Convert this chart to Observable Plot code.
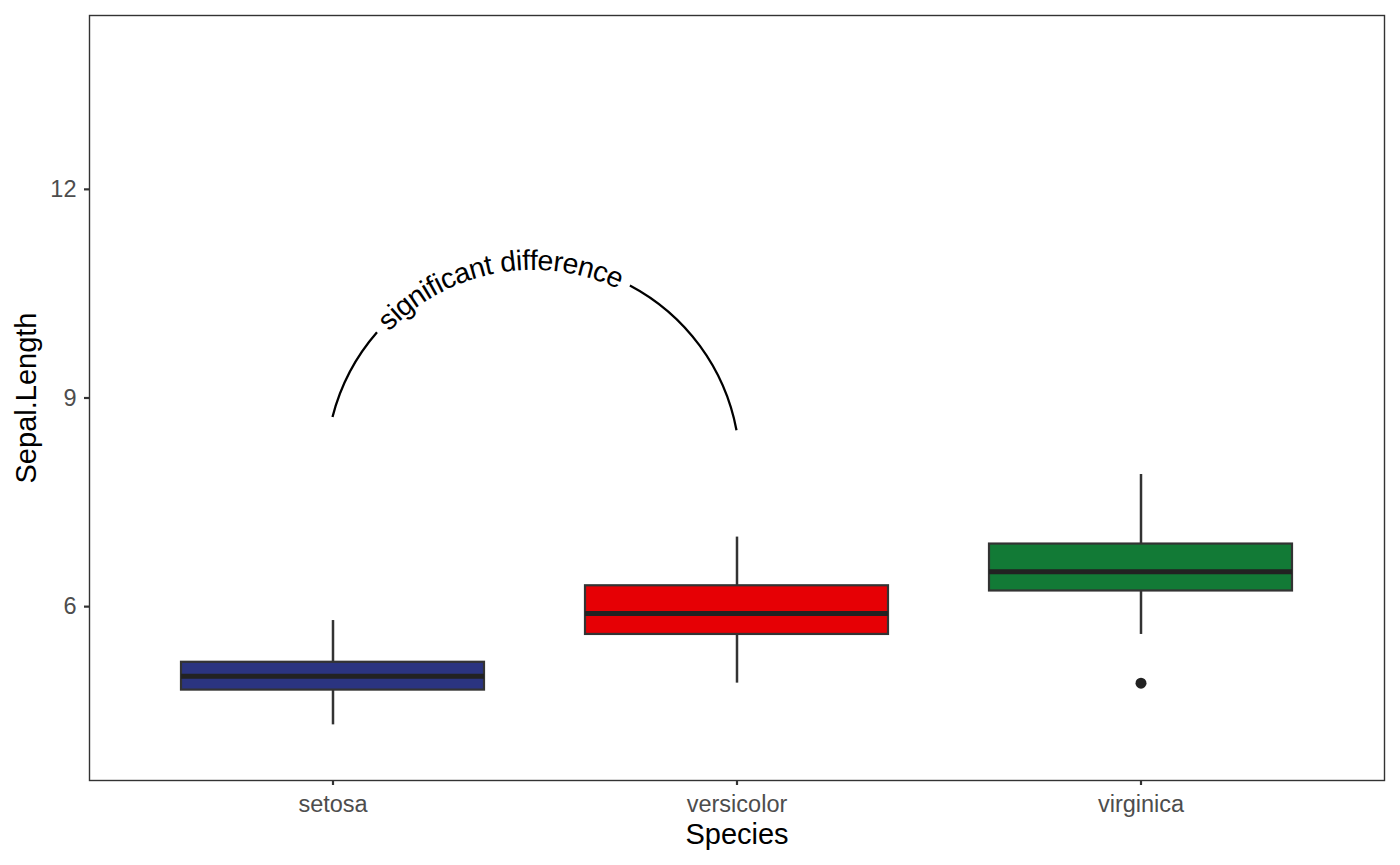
<!DOCTYPE html>
<html>
<head>
<meta charset="utf-8">
<script src="https://cdn.jsdelivr.net/npm/d3@7"></script>
<script src="https://cdn.jsdelivr.net/npm/@observablehq/plot@0.6"></script>
<style>
  html, body { margin: 0; padding: 0; background: #fff; }
  svg { display: block; }
</style>
</head>
<body>
<div id="chart"></div>
<script>
// ---- data ----
const species = ["setosa", "versicolor", "virginica"];
const whiskerLow = [4.3, 4.9, 5.6];
const q1 = [4.8, 5.6, 6.225];
const median = [5.0, 5.9, 6.5];
const q3 = [5.2, 6.3, 6.9];
const whiskerHigh = [5.8, 7.0, 7.9];
const outlierSpecies = ["virginica"];
const outlierValues = [4.9];
const yTicks = [6, 9, 12];
const annotationSpecies = ["setosa", "versicolor"];
const annotationY = [8.72, 8.53];
const annotationLabel = "significant difference";
const palette = ["#2B3480", "#E60005", "#127A36"];

const FONT = "'Liberation Sans', Arial, Helvetica, sans-serif";

const boxes = species.map((s, i) => ({
  species: s, lo: whiskerLow[i], q1: q1[i], median: median[i], q3: q3[i], hi: whiskerHigh[i]
}));
const outliers = outlierSpecies.map((s, i) => ({species: s, value: outlierValues[i]}));

const chart = Plot.plot({
  width: 1400,
  height: 865,
  marginTop: 15,
  marginBottom: 85,
  marginLeft: 89,
  marginRight: 16,
  style: {fontFamily: FONT, background: "#fff", overflow: "visible"},
  x: {type: "band", domain: species, paddingInner: 0.25, paddingOuter: 0.225},
  y: {domain: [3.5, 14.5]},
  color: {domain: species, range: palette},
  marks: [
    Plot.ruleX(boxes, {x: "species", y1: "lo", y2: "q1", stroke: "#333", strokeWidth: 2.5}),
    Plot.ruleX(boxes, {x: "species", y1: "q3", y2: "hi", stroke: "#333", strokeWidth: 2.5}),
    Plot.barY(boxes, {x: "species", y1: "q1", y2: "q3", fill: "species", stroke: "#333", strokeWidth: 2.2}),
    Plot.tickY(boxes, {x: "species", y: "median", stroke: "#222", strokeWidth: 5}),
    Plot.dot(outliers, {x: "species", y: "value", r: 5.5, fill: "#222", stroke: "none"}),
    Plot.axisX({tickSize: 5, tickPadding: 10, fontSize: 23.5, color: "#333", strokeWidth: 2.2, label: null}),
    Plot.axisY({ticks: yTicks, tickSize: 5, tickPadding: 8, fontSize: 23.5, color: "#333", strokeWidth: 2.2, label: null}),
    Plot.text(["Species"], {frameAnchor: "bottom", lineAnchor: "bottom", textAnchor: "middle", dy: 63, fontSize: 29, fill: "#000"}),
    Plot.text(["Sepal.Length"], {frameAnchor: "left", lineAnchor: "middle", textAnchor: "middle", dx: -63, rotate: -90, fontSize: 29, fill: "#000"}),
    Plot.frame({stroke: "#333", strokeWidth: 1.4})
  ]
});

document.getElementById("chart").appendChild(chart);

// tick labels in gray30 like the reference
d3.select(chart).selectAll("g[aria-label$='tick label']").attr("fill", "#4d4d4d");

// ---- curved annotation with text along the arc ----
const sx = chart.scale("x"), sy = chart.scale("y");
const px = (s) => sx.apply(s) + sx.bandwidth / 2;
const p1 = [px(annotationSpecies[0]), sy.apply(annotationY[0])];
const p2 = [px(annotationSpecies[1]), sy.apply(annotationY[1])];
const arcAngle = 155; // degrees subtended by the arc
const chord = Math.hypot(p2[0] - p1[0], p2[1] - p1[1]);
const R = (chord / 2) / Math.sin(Math.PI * arcAngle / 360);
const g = d3.select(chart).append("g").attr("aria-label", "annotation");
const path = g.append("path")
  .attr("id", "annoArc")
  .attr("d", `M${p1[0]},${p1[1]} A${R},${R} 0 0 1 ${p2[0]},${p2[1]}`)
  .attr("fill", "none")
  .attr("stroke", "#000")
  .attr("stroke-width", 2.3);
const textPos = 0.42;
const text = g.append("text")
  .attr("font-family", FONT)
  .attr("font-size", 28.5)
  .attr("fill", "#000")
  .attr("dy", "0.3em");
const tp = text.append("textPath")
  .attr("href", "#annoArc")
  .attr("text-anchor", "middle")
  .text(annotationLabel);
const L = path.node().getTotalLength();
const s0 = textPos * L;
tp.attr("startOffset", s0);
const tl = text.node().getComputedTextLength();
const pad = 9;
path.attr("stroke-dasharray", `${s0 - tl / 2 - pad} ${tl + 2 * pad} ${L}`);
</script>
</body>
</html>
